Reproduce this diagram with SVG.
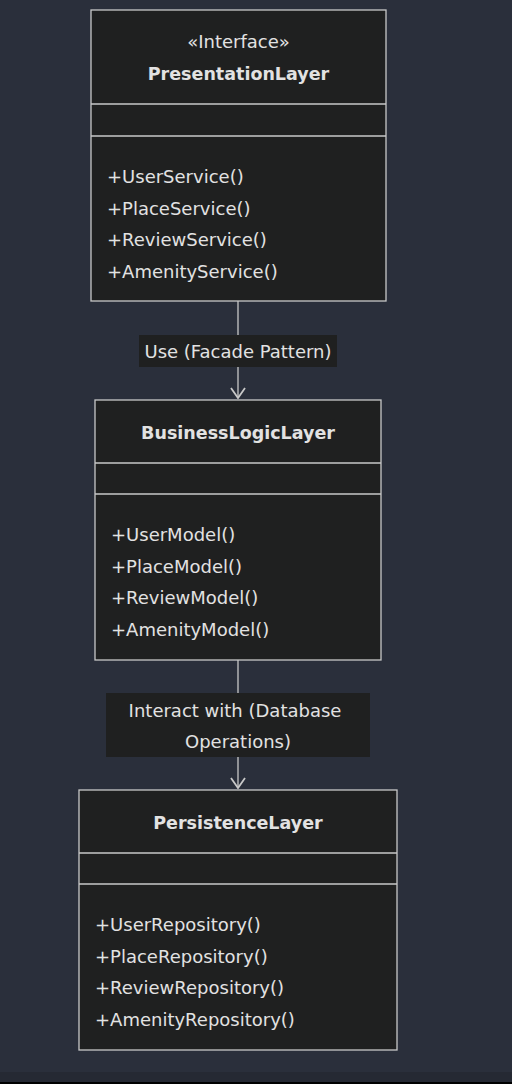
<svg xmlns="http://www.w3.org/2000/svg" width="512" height="1084" viewBox="0 0 512 1084">
<style>
.bg{fill:#2a2f3b}
.box{fill:#1f2020;stroke:#c8c8c8;stroke-width:1.3}
.div{stroke:#c8c8c8;stroke-width:1.3}
.t{font-family:"DejaVu Sans",sans-serif;font-size:18px;fill:#e2e2e2}
.title{font-weight:bold;text-anchor:middle;font-size:17.5px}
.c{text-anchor:middle}
.edge{stroke:#c8c8c8;stroke-width:1.3;fill:none}
.lbl{fill:#1f2020}
</style>
<defs>
<marker id="arr" markerWidth="12" markerHeight="16" refX="11" refY="8" orient="auto" markerUnits="userSpaceOnUse" viewBox="0 0 12 16">
<path d="M1,1 L11,8 L1,15" fill="none" stroke="#c8c8c8" stroke-width="1.8"/>
</marker>
</defs>
<rect class="bg" x="0" y="0" width="512" height="1084"/>
<rect x="0" y="1072" width="512" height="10" fill="#252933"/>
<rect x="0" y="1082" width="512" height="2" fill="#000000"/>

<g id="connectors">
<line class="edge" x1="238" y1="301" x2="238" y2="398" marker-end="url(#arr)"/>
<rect class="lbl" x="139" y="335" width="198" height="32"/>
<text class="t c" x="238" y="357.5">Use (Facade Pattern)</text>
<line class="edge" x1="238" y1="660" x2="238" y2="788" marker-end="url(#arr)"/>
<rect class="lbl" x="106" y="693" width="264" height="64"/>
<text class="t c" x="235" y="716.5">Interact with (Database</text>
<text class="t c" x="238" y="747.5">Operations)</text>
</g>

<g id="PresentationLayer">
<rect class="box" x="91" y="10" width="295" height="291"/>
<line class="div" x1="91" y1="104" x2="386" y2="104"/>
<line class="div" x1="91" y1="136" x2="386" y2="136"/>
<text class="t c" x="238.5" y="48">«Interface»</text>
<text class="t title" x="238.5" y="80">PresentationLayer</text>
<text class="t" x="107" y="183">+UserService()</text>
<text class="t" x="107" y="214.5">+PlaceService()</text>
<text class="t" x="107" y="246">+ReviewService()</text>
<text class="t" x="107" y="277.5">+AmenityService()</text>
</g>

<g id="BusinessLogicLayer">
<rect class="box" x="95" y="400" width="286" height="260"/>
<line class="div" x1="95" y1="463" x2="381" y2="463"/>
<line class="div" x1="95" y1="494" x2="381" y2="494"/>
<text class="t title" x="238" y="438.5">BusinessLogicLayer</text>
<text class="t" x="111" y="541">+UserModel()</text>
<text class="t" x="111" y="572.5">+PlaceModel()</text>
<text class="t" x="111" y="604">+ReviewModel()</text>
<text class="t" x="111" y="635.5">+AmenityModel()</text>
</g>

<g id="PersistenceLayer">
<rect class="box" x="79" y="790" width="318" height="260"/>
<line class="div" x1="79" y1="853" x2="397" y2="853"/>
<line class="div" x1="79" y1="884" x2="397" y2="884"/>
<text class="t title" x="238" y="829">PersistenceLayer</text>
<text class="t" x="95" y="931">+UserRepository()</text>
<text class="t" x="95" y="962.5">+PlaceRepository()</text>
<text class="t" x="95" y="994">+ReviewRepository()</text>
<text class="t" x="95" y="1025.5">+AmenityRepository()</text>
</g>
</svg>
